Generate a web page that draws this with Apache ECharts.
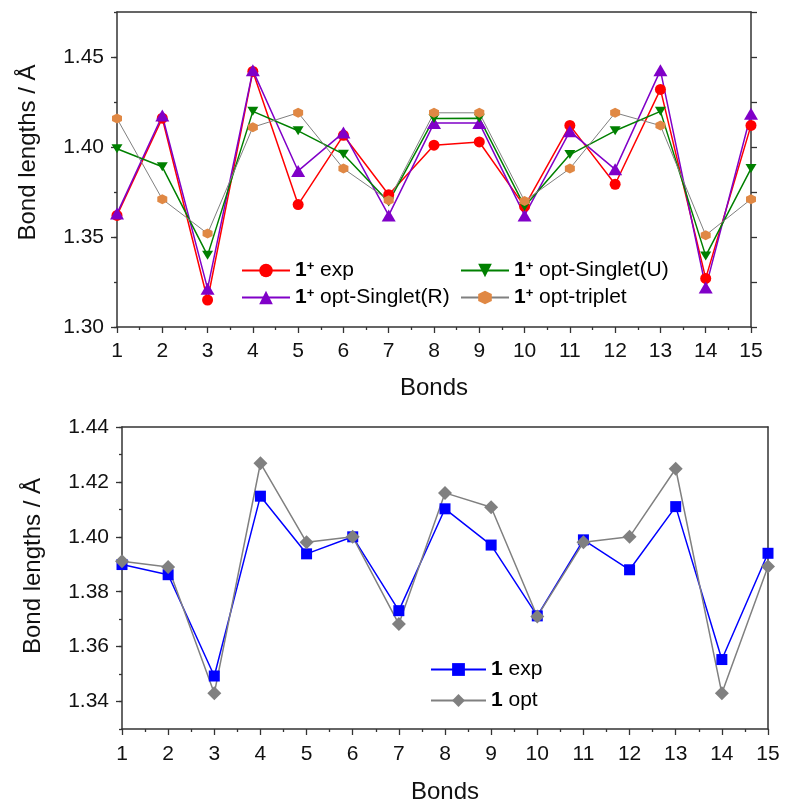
<!DOCTYPE html>
<html>
<head>
<meta charset="utf-8">
<script src="https://cdn.jsdelivr.net/npm/echarts@6/dist/echarts.min.js"></script>
<style>
html,body{margin:0;padding:0;background:#fff;}
#chart{width:785px;height:805px;}
</style>
</head>
<body>
<div id="chart"></div>
<script>
// ---- data ----
const bonds = [1,2,3,4,5,6,7,8,9,10,11,12,13,14,15];
const cationExp       = [1.362, 1.416, 1.315, 1.442, 1.368, 1.4065, 1.3735, 1.401, 1.4028, 1.367, 1.412, 1.3793, 1.432, 1.327, 1.412];
const cationSingletR  = [1.363, 1.4175, 1.3213, 1.4426, 1.3867, 1.408, 1.362, 1.4133, 1.4133, 1.362, 1.4087, 1.3876, 1.4426, 1.3219, 1.4185];
const cationSingletU  = [1.399, 1.389, 1.3398, 1.4198, 1.409, 1.396, 1.3695, 1.4158, 1.416, 1.367, 1.3958, 1.409, 1.4198, 1.3395, 1.388];
const cationTriplet   = [1.4158, 1.371, 1.3519, 1.411, 1.419, 1.388, 1.3704, 1.419, 1.419, 1.370, 1.388, 1.419, 1.4119, 1.351, 1.371];
const neutralExp      = [1.3899, 1.3862, 1.3493, 1.4148, 1.3938, 1.400, 1.3731, 1.4102, 1.397, 1.3712, 1.3989, 1.388, 1.411, 1.3553, 1.394];
const neutralOpt      = [1.3911, 1.389, 1.343, 1.4268, 1.398, 1.400, 1.3682, 1.416, 1.4108, 1.371, 1.398, 1.400, 1.4248, 1.343, 1.3892];
const topYTicks    = [1.30, 1.35, 1.40, 1.45];
const bottomYTicks = [1.34, 1.36, 1.38, 1.40, 1.42, 1.44];
const xName = 'Bonds';
const yName = 'Bond lengths / Å';

const legendText = {
  'cExp': '{b|1}{s|+}{t| exp}',
  'cR':   '{b|1}{s|+}{t| opt-Singlet(R)}',
  'cU':   '{b|1}{s|+}{t| opt-Singlet(U)}',
  'cT':   '{b|1}{s|+}{t| opt-triplet}',
  'nExp': '{b|1}{t| exp}',
  'nOpt': '{b|1}{t| opt}'
};

const FONT = 'Liberation Sans, Arial, sans-serif';
const AX = '#333';
const pairs = arr => bonds.map((b, i) => [b, arr[i]]);

const richStyle = (fs) => ({
  b: {fontFamily: FONT, fontWeight: 'bold', fontSize: fs, color: '#000'},
  s: {fontFamily: FONT, fontWeight: 'bold', fontSize: Math.round(fs*0.62), color: '#000', verticalAlign: 'top'},
  t: {fontFamily: FONT, fontSize: fs, color: '#000'}
});

function xAxes(grid, labelMargin, nameGap) {
  return [
    {
      type: 'value', gridIndex: grid, position: 'bottom', min: 1, max: 15, interval: 1,
      axisLine: {show: true, onZero: false, lineStyle: {color: AX, width: 1.5}},
      axisTick: {show: true, inside: false, length: 6, lineStyle: {color: AX, width: 1.3}},
      minorTick: {show: true, splitNumber: 2, length: 3, lineStyle: {color: AX, width: 1.3}},
      axisLabel: {fontFamily: FONT, fontSize: 21, color: '#111', margin: labelMargin},
      splitLine: {show: false}, minorSplitLine: {show: false},
      name: xName, nameLocation: 'middle', nameGap: nameGap,
      nameTextStyle: {fontFamily: FONT, fontSize: 24, color: '#111'}
    },
    {
      type: 'value', gridIndex: grid, position: 'top', min: 1, max: 15, interval: 1,
      axisLine: {show: true, onZero: false, lineStyle: {color: AX, width: 1.5}},
      axisTick: {show: false}, axisLabel: {show: false}, splitLine: {show: false}
    }
  ];
}

const option = {
  animation: false,
  backgroundColor: '#fff',
  grid: [
    {left: 117, right: 34, top: 12, height: 315, containLabel: false},
    {left: 122, right: 17, top: 427, height: 304, containLabel: false}
  ],
  xAxis: [...xAxes(0, 14, 49), ...xAxes(1, 15, 51)],
  yAxis: [
    // top chart: major left
    {
      type: 'value', gridIndex: 0, position: 'left', min: 1.30, max: 1.475, interval: 0.05,
      axisLine: {show: true, onZero: false, lineStyle: {color: AX, width: 1.5}},
      axisTick: {show: true, inside: false, length: 6, customValues: topYTicks, lineStyle: {color: AX, width: 1.3}},
      axisLabel: {customValues: topYTicks, formatter: v => Number(v).toFixed(2), fontFamily: FONT, fontSize: 21, color: '#111', margin: 13},
      splitLine: {show: false},
      name: yName, nameLocation: 'middle', nameGap: 77,
      nameTextStyle: {fontFamily: FONT, fontSize: 24, color: '#111', padding: [0, 0, 0, 34]}
    },
    // top chart: minor left
    {
      type: 'value', gridIndex: 0, position: 'left', min: 1.30, max: 1.475, interval: 0.025,
      axisLine: {show: false},
      axisTick: {show: true, inside: false, length: 3, lineStyle: {color: AX, width: 1.3}},
      axisLabel: {show: false}, splitLine: {show: false}
    },
    // top chart: right
    {
      type: 'value', gridIndex: 0, position: 'right', min: 1.30, max: 1.475, interval: 0.025,
      axisLine: {show: true, onZero: false, lineStyle: {color: AX, width: 1.5}},
      axisTick: {show: true, inside: false, length: 6, lineStyle: {color: AX, width: 1.3}},
      axisLabel: {show: false}, splitLine: {show: false}
    },
    // bottom chart: major left
    {
      type: 'value', gridIndex: 1, position: 'left', min: 1.33, max: 1.44, interval: 0.01,
      axisLine: {show: true, onZero: false, lineStyle: {color: AX, width: 1.5}},
      axisTick: {show: true, inside: false, length: 6, customValues: bottomYTicks, lineStyle: {color: AX, width: 1.3}},
      axisLabel: {customValues: bottomYTicks, formatter: v => Number(v).toFixed(2), fontFamily: FONT, fontSize: 21, color: '#111', margin: 13},
      splitLine: {show: false},
      name: yName, nameLocation: 'middle', nameGap: 77,
      nameTextStyle: {fontFamily: FONT, fontSize: 24, color: '#111', padding: [0, 0, 0, 24]}
    },
    // bottom chart: minor left
    {
      type: 'value', gridIndex: 1, position: 'left', min: 1.33, max: 1.44, interval: 0.01,
      axisLine: {show: false},
      axisTick: {show: true, inside: false, length: 3, lineStyle: {color: AX, width: 1.3}},
      axisLabel: {show: false}, splitLine: {show: false}
    },
    // bottom chart: right
    {
      type: 'value', gridIndex: 1, position: 'right', min: 1.33, max: 1.44, interval: 0.01,
      axisLine: {show: true, onZero: false, lineStyle: {color: AX, width: 1.5}},
      axisTick: {show: false}, axisLabel: {show: false}, splitLine: {show: false}
    }
  ],
  legend: [
    {
      data: ['cExp', 'cR'], orient: 'vertical', left: 241, top: 260, padding: 0,
      itemWidth: 48, itemHeight: 17, itemGap: 6,
      formatter: n => legendText[n], textStyle: {fontFamily: FONT, fontSize: 21, rich: richStyle(21)}
    },
    {
      data: ['cU', 'cT'], orient: 'vertical', left: 460, top: 260, padding: 0,
      itemWidth: 48, itemHeight: 17, itemGap: 6,
      formatter: n => legendText[n], textStyle: {fontFamily: FONT, fontSize: 21, rich: richStyle(21)}
    },
    {
      data: ['nExp', 'nOpt'], orient: 'vertical', left: 430, top: 659, padding: 0,
      itemWidth: 55, itemHeight: 16, itemGap: 10,
      formatter: n => legendText[n], textStyle: {fontFamily: FONT, fontSize: 21, rich: richStyle(21)}
    }
  ],
  series: [
    {
      name: 'cExp', type: 'line', xAxisIndex: 0, yAxisIndex: 0, data: pairs(cationExp),
      symbol: 'circle', symbolSize: 11, color: '#ff0000',
      lineStyle: {color: '#ff0000', width: 1.5}, itemStyle: {color: '#ff0000'}
    },
    {
      name: 'cR', type: 'line', xAxisIndex: 0, yAxisIndex: 0, data: pairs(cationSingletR),
      symbol: 'triangle', symbolSize: [14, 12], color: '#8000c8',
      lineStyle: {color: '#8000c8', width: 1.5}, itemStyle: {color: '#8000c8'}
    },
    {
      name: 'cU', type: 'line', xAxisIndex: 0, yAxisIndex: 0, data: pairs(cationSingletU),
      symbol: 'triangle', symbolRotate: 180, symbolSize: [11, 9], color: '#008000',
      lineStyle: {color: '#008000', width: 1.5}, itemStyle: {color: '#008000'}
    },
    {
      name: 'cT', type: 'line', xAxisIndex: 0, yAxisIndex: 0, data: pairs(cationTriplet),
      symbol: 'path://M5,0 L9.33,2.5 L9.33,7.5 L5,10 L0.67,7.5 L0.67,2.5 Z', symbolSize: 10, color: '#e08844',
      lineStyle: {color: '#808080', width: 1}, itemStyle: {color: '#e08844'}
    },
    {
      name: 'nExp', type: 'line', xAxisIndex: 2, yAxisIndex: 3, data: pairs(neutralExp),
      symbol: 'rect', symbolSize: 11, color: '#0000ff',
      lineStyle: {color: '#0000ff', width: 1.5}, itemStyle: {color: '#0000ff'}
    },
    {
      name: 'nOpt', type: 'line', xAxisIndex: 2, yAxisIndex: 3, data: pairs(neutralOpt),
      symbol: 'diamond', symbolSize: 14, color: '#808080',
      lineStyle: {color: '#808080', width: 1.5}, itemStyle: {color: '#808080'}
    }
  ]
};

const chart = echarts.init(document.getElementById('chart'), null, {renderer: 'canvas'});
chart.setOption(option);
</script>
</body>
</html>
